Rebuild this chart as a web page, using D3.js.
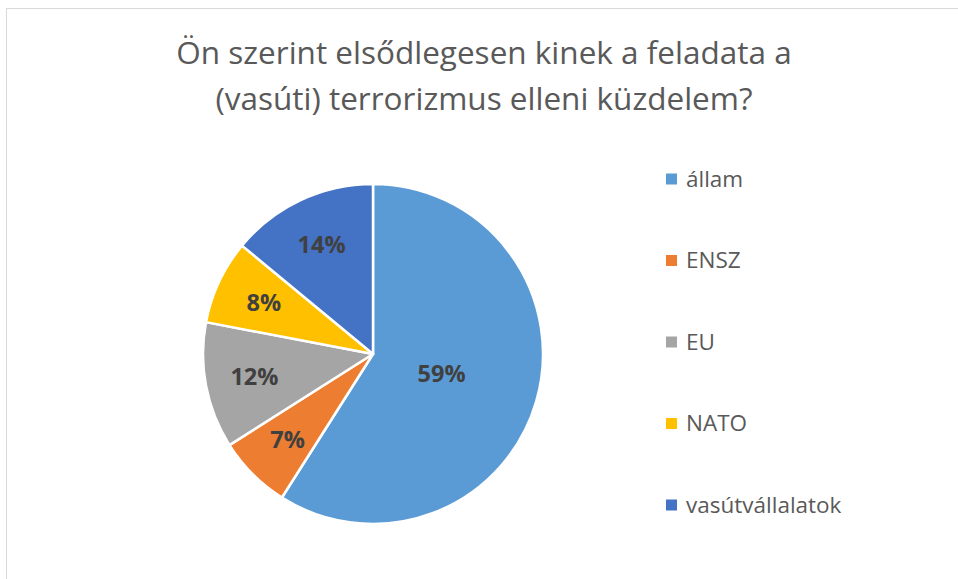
<!DOCTYPE html>
<html>
<head>
<meta charset="utf-8">
<script src="https://cdn.jsdelivr.net/npm/d3@7"></script>
<style>
  html, body { margin: 0; padding: 0; background: #fff; }
  svg { display: block; font-family: "Open Sans", "Noto Sans", sans-serif; }
</style>
</head>
<body>
<div id="chart"></div>
<script>
const titleLines = ["Ön szerint elsődlegesen kinek a feladata a", "(vasúti) terrorizmus elleni küzdelem?"];
const categories = ["állam", "ENSZ", "EU", "NATO", "vasútvállalatok"];
const values = [59, 7, 12, 8, 14];
const colors = ["#5B9BD5", "#ED7D31", "#A5A5A5", "#FFC000", "#4472C4"];

const width = 958;
const height = 579;
const cx = 373, cy = 354, radius = 170;

const svg = d3.select("#chart")
  .append("svg")
  .attr("width", width)
  .attr("height", height);

// chart frame
svg.append("rect")
  .attr("x", 6.5)
  .attr("y", 8.5)
  .attr("width", width + 10)
  .attr("height", height + 10)
  .attr("fill", "#fff")
  .attr("stroke", "#d9d9d9")
  .attr("stroke-width", 1);

svg.append("g")
  .selectAll("text")
  .data(titleLines)
  .enter()
  .append("text")
  .attr("x", 484)
  .attr("y", (d, i) => 64 + i * 46)
  .attr("text-anchor", "middle")
  .attr("font-size", 31.5)
  .attr("fill", "#595959")
  .text(d => d);

const data = categories.map((c, i) => ({ name: c, value: values[i], color: colors[i] }));
const total = d3.sum(values);

const pie = d3.pie().value(d => d.value).sort(null);
const arc = d3.arc().innerRadius(0).outerRadius(radius);

const g = svg.append("g").attr("transform", `translate(${cx}, ${cy})`);
const arcs = pie(data);

g.selectAll("path")
  .data(arcs)
  .enter()
  .append("path")
  .attr("d", arc)
  .attr("fill", d => d.data.color)
  .attr("stroke", "#fff")
  .attr("stroke-width", 2.5)
  .attr("stroke-linejoin", "round");

function labelPos(d) {
  const share = d.data.value / total;
  const r = share > 0.5 ? radius * 0.42 : radius * 0.71;
  const a = (d.startAngle + d.endAngle) / 2;
  return [Math.sin(a) * r, -Math.cos(a) * r];
}

g.selectAll("text")
  .data(arcs)
  .enter()
  .append("text")
  .attr("x", d => labelPos(d)[0])
  .attr("y", d => labelPos(d)[1])
  .attr("dy", "0.35em")
  .attr("text-anchor", "middle")
  .attr("font-size", 23.5)
  .attr("font-weight", "bold")
  .attr("fill", "#404040")
  .text(d => d3.format(".0%")(d.data.value / total));

const legendY = d3.scalePoint()
  .domain(categories)
  .range([179, 505]);

const legend = svg.append("g")
  .selectAll("g")
  .data(data)
  .enter()
  .append("g")
  .attr("transform", d => `translate(666, ${legendY(d.name)})`);

legend.append("rect")
  .attr("x", 0)
  .attr("y", -5.5)
  .attr("width", 11)
  .attr("height", 11)
  .attr("fill", d => d.color);

legend.append("text")
  .attr("x", 20)
  .attr("dy", "0.35em")
  .attr("font-size", 22.5)
  .attr("fill", "#595959")
  .text(d => d.name);
</script>
</body>
</html>
